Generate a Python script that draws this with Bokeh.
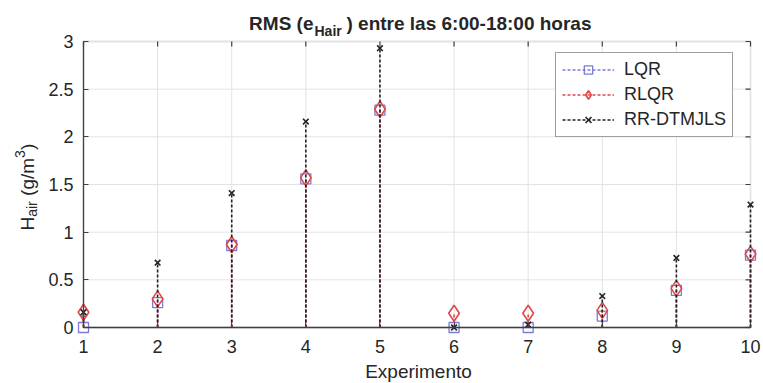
import math
from bokeh.plotting import figure
from bokeh.models import (ColumnDataSource, Range1d, FixedTicker, Label,
                          Legend, LegendItem, BoxAnnotation)
from bokeh.embed import file_html
from bokeh.resources import INLINE

# ---- data ----
experiments = [1, 2, 3, 4, 5, 6, 7, 8, 9, 10]
lqr = [0.00, 0.26, 0.86, 1.56, 2.28, 0.00, 0.00, 0.12, 0.39, 0.76]
rlqr = [0.16, 0.30, 0.87, 1.57, 2.29, 0.15, 0.15, 0.18, 0.41, 0.77]
rr_dtmjls = [0.16, 0.68, 1.41, 2.16, 2.93, 0.00, 0.03, 0.33, 0.73, 1.29]
series_names = ["LQR", "RLQR", "RR-DTMJLS"]
x_ticks = [1, 2, 3, 4, 5, 6, 7, 8, 9, 10]
y_ticks = [0, 0.5, 1, 1.5, 2, 2.5, 3]
y_tick_labels = ["0", "0.5", "1", "1.5", "2", "2.5", "3"]
title_parts = ["RMS (e", "Hair", ") entre las 6:00-18:00 horas"]
ylabel_parts = ["H", "air", "(g/m", "3", ")"]
xlabel = "Experimento"

# ---- layout (pixel positions of the axes box in the 763x383 page) ----
W, H = 763, 383
FL, FR, FT, FB = 83, 750, 41, 327
X0, X1, Y0, Y1 = 1, 10, 0, 3
FONT = "Liberation Sans"
TXT = "#262626"
AX = "#404040"
GRID = "#e3e3e3"
OFF = 5.5  # baseline correction for Label text


def dx(px):
    return X0 + (px - FL) * (X1 - X0) / (FR - FL)


def dy(py):
    return Y0 + (FB - py) * (Y1 - Y0) / (FB - FT)


p = figure(width=W, height=H, x_range=Range1d(dx(0), dx(W)),
           y_range=Range1d(dy(H), dy(0)),
           output_backend="svg", toolbar_location=None,
           min_border=0, min_border_left=0, min_border_right=0,
           min_border_top=0, min_border_bottom=0,
           background_fill_color="white", border_fill_color="white")
p.outline_line_color = None
p.grid.visible = False

# axes drawn at the box edges, inside the (full-page) frame
p.xaxis.fixed_location = Y0
p.yaxis.fixed_location = X0
p.xaxis.bounds = (X0, X1)
p.yaxis.bounds = (Y0, Y1)
p.xaxis.ticker = FixedTicker(ticks=x_ticks)
p.yaxis.ticker = FixedTicker(ticks=y_ticks)
p.yaxis.major_label_overrides = {t: l for t, l in zip(y_ticks, y_tick_labels)}
for ax in (p.xaxis[0], p.yaxis[0]):
    ax.major_tick_in = 5
    ax.major_tick_out = 0
    ax.minor_tick_in = 0
    ax.minor_tick_out = 0
    ax.axis_line_color = AX
    ax.axis_line_width = 1.3
    ax.major_tick_line_color = AX
    ax.major_label_text_font = FONT
    ax.major_label_text_font_size = "18px"
    ax.major_label_text_color = TXT
p.xaxis.major_label_standoff = 12
p.yaxis.major_label_standoff = 10

# grid lines from the tick arrays, limited to the axes box
n_x, n_y = len(x_ticks), len(y_ticks)
p.segment(x0=x_ticks, y0=[Y0] * n_x, x1=x_ticks, y1=[Y1] * n_x,
          line_color=GRID, line_width=1)
p.segment(x0=[X0] * n_y, y0=y_ticks, x1=[X1] * n_y, y1=y_ticks,
          line_color=GRID, line_width=1)

# box and inward ticks on top / right
p.add_layout(BoxAnnotation(left=X0, right=X1, bottom=Y0, top=Y1,
                           fill_alpha=0, line_color=AX, line_width=1.3,
                           level="underlay"))
tick_y = dy(FT + 5) - dy(FT)
tick_x = dx(FL + 5) - dx(FL)
p.segment(x0=x_ticks, y0=[Y1] * n_x, x1=x_ticks, y1=[Y1 + tick_y] * n_x,
          line_color=AX, line_width=1.2)
p.segment(x0=[X1] * n_y, y0=y_ticks, x1=[X1 - tick_x] * n_y, y1=y_ticks,
          line_color=AX, line_width=1.2)

src = ColumnDataSource(dict(x=experiments, zero=[0] * len(experiments),
                            lqr=lqr, rlqr=rlqr, rr=rr_dtmjls))

colors = ["#7b7bd6", "#e04848", "#222222"]
cols = ["lqr", "rlqr", "rr"]
markers = [("square", 10, 1.3), ("diamond", 16, 1.6), ("x", 8, 1.6)]
items = []
for name, col, c, (mk, sz, lw) in zip(series_names, cols, colors, markers):
    stem = p.segment(x0="x", y0="zero", x1="x", y1=col, source=src,
                     line_color=c, line_width=1.6, line_dash="3 2")
    sc = p.scatter(x="x", y=col, source=src, marker=mk, size=sz,
                   line_color=c, fill_color=None, line_width=lw)
    items.append(LegendItem(label=name, renderers=[stem, sc]))

legend = Legend(items=items, location=(555, H - 137),
                label_text_font=FONT, label_text_font_size="18px",
                label_text_color=TXT, glyph_width=52, glyph_height=21,
                label_height=21, label_standoff=10, padding=6, spacing=4,
                border_line_color=AX, border_line_width=1.2,
                background_fill_color="white", background_fill_alpha=1.0)
p.add_layout(legend)


def lab(text, px, py, size, bold=False, align="left", rotated=False):
    if rotated:
        x, y, angle = dx(px - OFF), dy(py), math.pi / 2
    else:
        x, y, angle = dx(px), dy(py - OFF), 0.0
    p.add_layout(Label(x=x, y=y, text=text, text_font=FONT,
                       text_font_size=f"{size}px",
                       text_font_style="bold" if bold else "normal",
                       text_color=TXT, text_align=align,
                       text_baseline="alphabetic", angle=angle))


# ---- title with subscript ----
lab(title_parts[0], 313, 28, 19, bold=True, align="right")
lab(title_parts[1], 314, 36, 14, bold=True)
lab(title_parts[2], 346, 28, 19, bold=True)

# ---- x label ----
lab(xlabel, 418, 376, 19, align="center")

# ---- y label (rotated, with sub/superscript) ----
lab(ylabel_parts[0], 32, 230, 19, rotated=True)
lab(ylabel_parts[1], 37, 216.3, 14, rotated=True)
lab(ylabel_parts[2], 32, 195.4, 19, rotated=True)
lab(ylabel_parts[3], 25, 157.4, 14, rotated=True)
lab(ylabel_parts[4], 32, 149.6, 19, rotated=True)

open("out.html", "w").write(file_html(p, INLINE))
